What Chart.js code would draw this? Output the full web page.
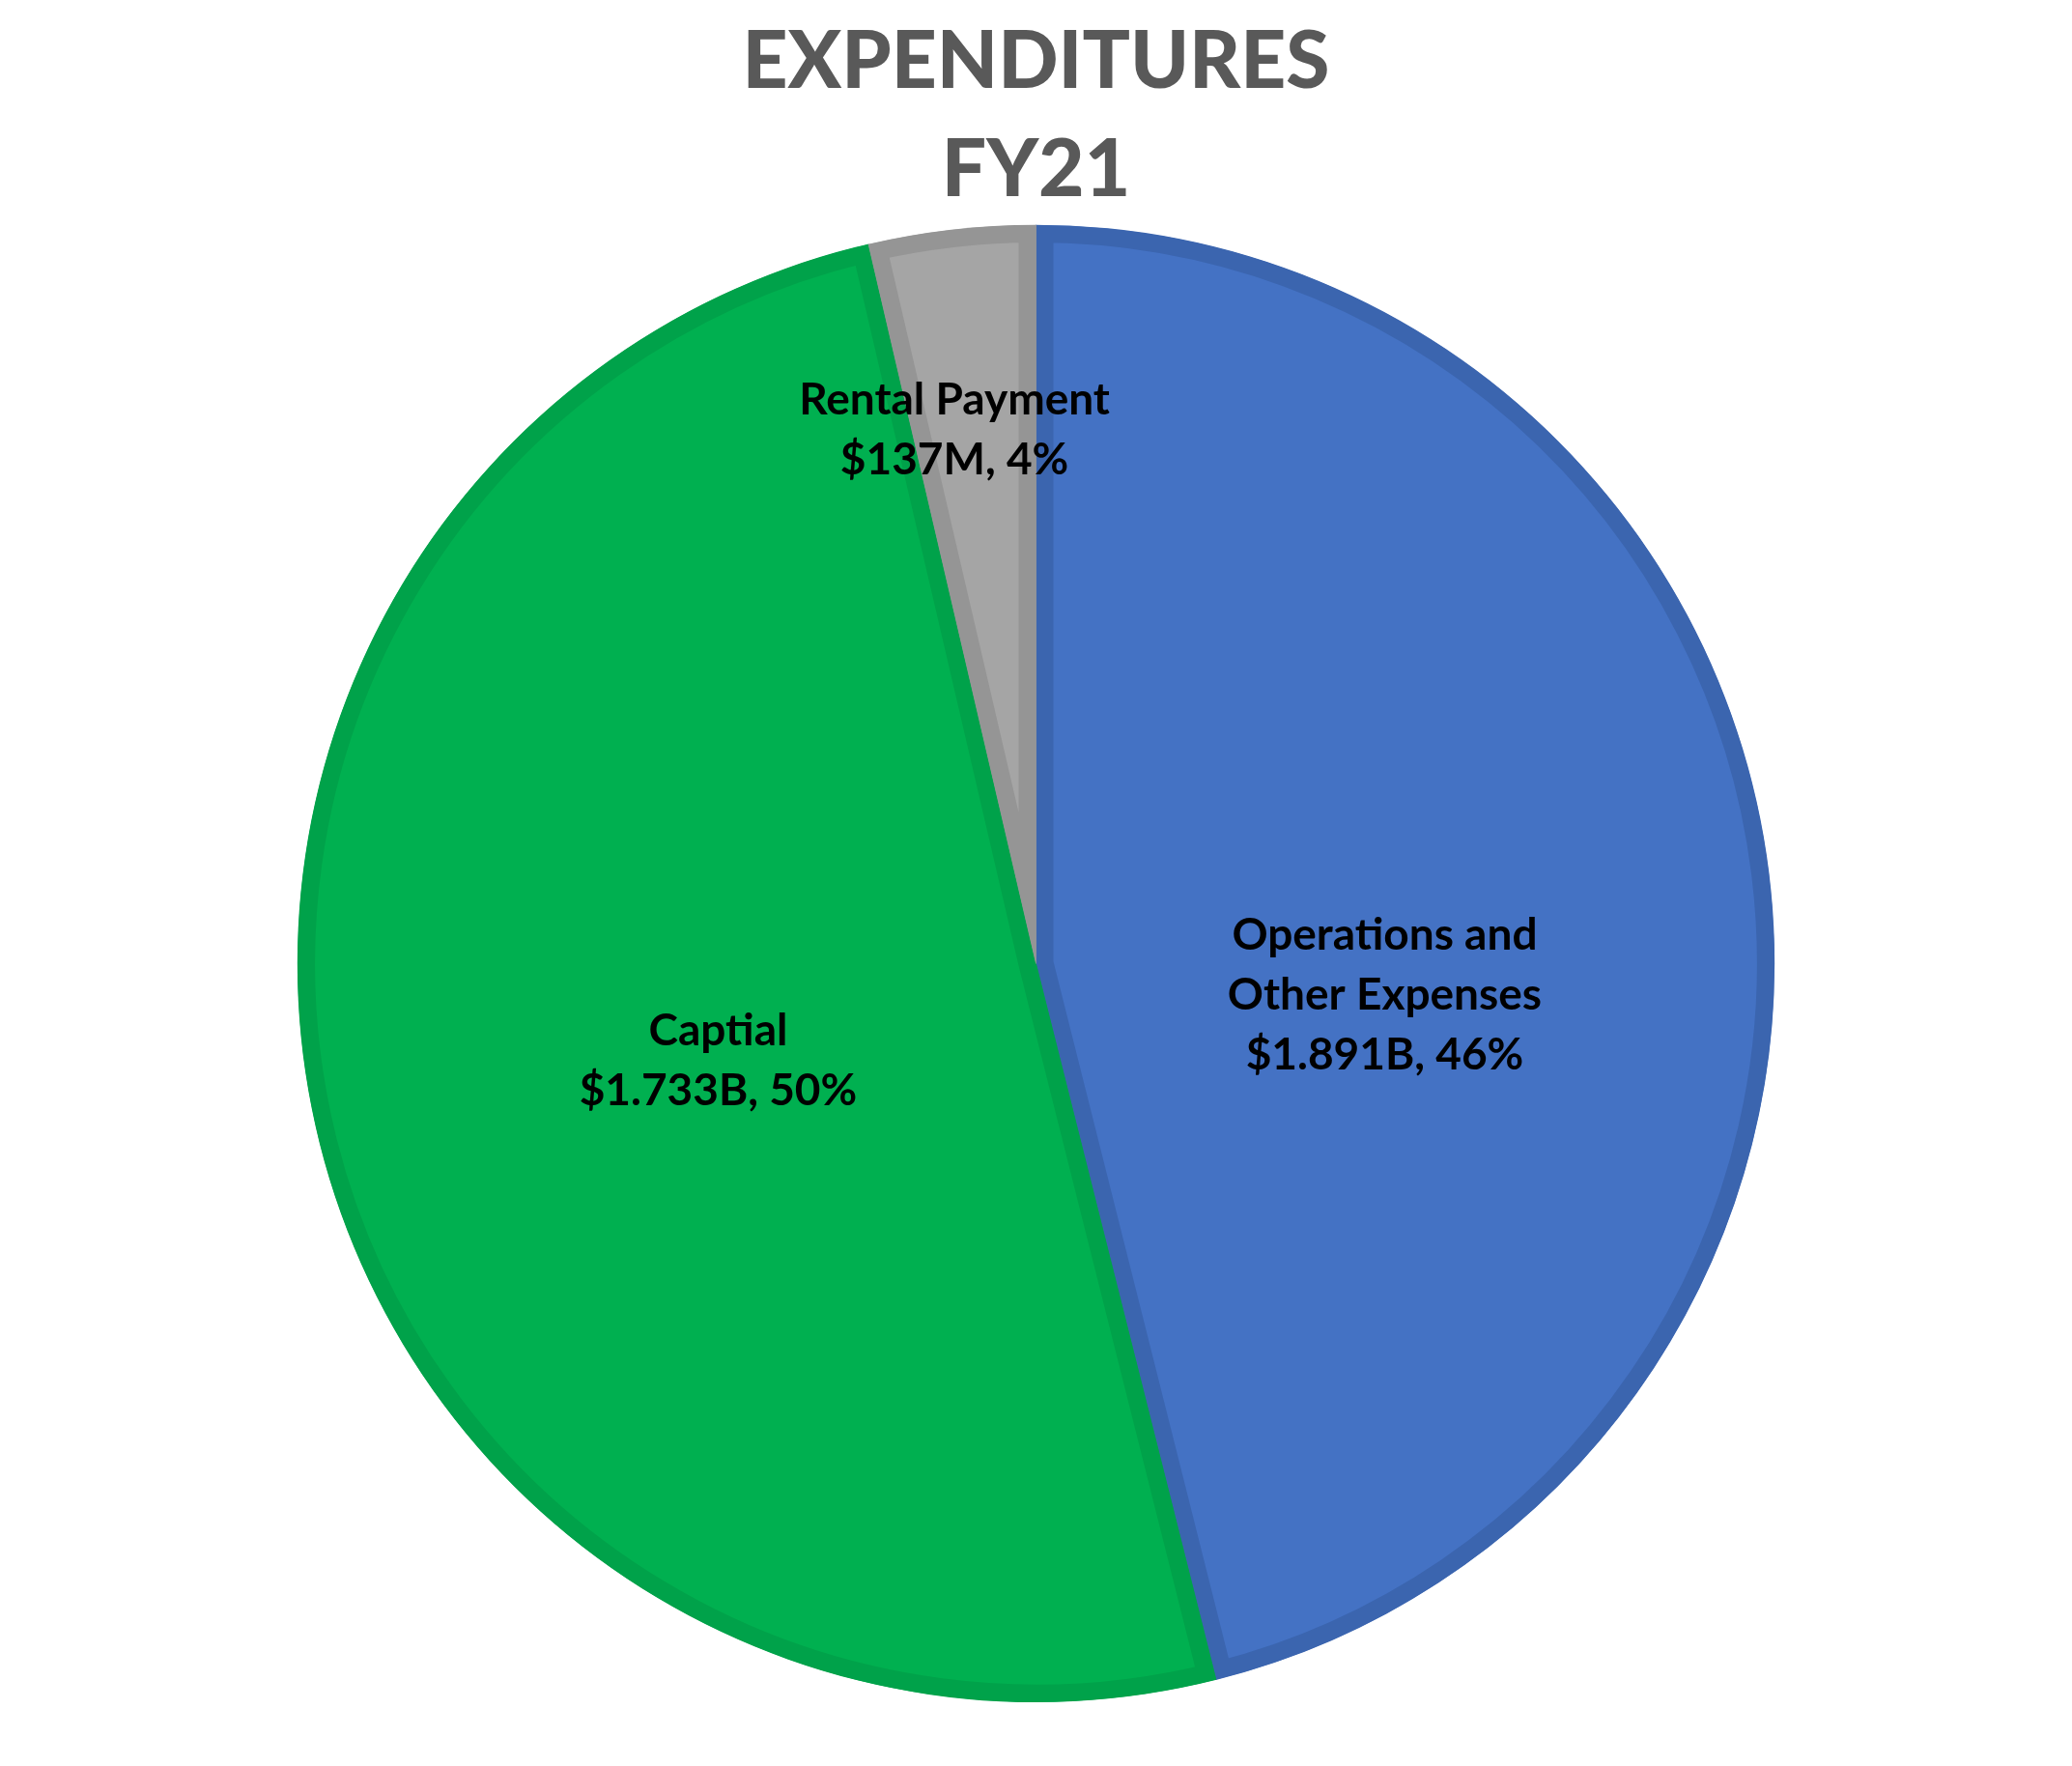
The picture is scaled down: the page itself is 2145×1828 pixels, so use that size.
<!DOCTYPE html>
<html>
<head>
<meta charset="utf-8">
<script src="https://cdn.jsdelivr.net/npm/chart.js@4.4.1/dist/chart.umd.min.js"></script>
<style>
    html, body { margin: 0; padding: 0; background: #ffffff; }
    #wrap { width: 2145px; height: 1828px; position: relative; }
</style>
</head>
<body>
<div id="wrap"><canvas id="pieChart"></canvas></div>
<script>
// slice values (millions), clockwise from 12 o'clock
const categories = ['Operations and Other Expenses', 'Captial', 'Rental Payment'];
const sliceValues = [1733, 1891, 137];
const sliceLabels = [
    ['Operations and', 'Other Expenses', '$1.891B, 46%'],
    ['Captial', '$1.733B, 50%'],
    ['Rental Payment', '$137M, 4%']
];
const titleLines = ['EXPENDITURES', 'FY21'];

const fillColors = ['#4472C4', '#00B050', '#A5A5A5'];
const borderColors = ['#3B65AF', '#00A24A', '#959595'];
// where each label sits: angle in degrees (0 = 3 o'clock, clockwise) and fraction of radius
const labelPlacement = [
    { angle: 5.2, r: 0.474 },
    { angle: 163, r: 0.45 },
    { angle: -98.7, r: 0.73 }
];

const sliceLabelPlugin = {
    id: 'sliceLabels',
    afterDatasetsDraw(chart) {
        const ctx = chart.ctx;
        const meta = chart.getDatasetMeta(0);
        ctx.save();
        ctx.font = 'bold 46px Lato, "Open Sans", sans-serif';
        ctx.fillStyle = '#000000';
        ctx.textAlign = 'center';
        ctx.textBaseline = 'middle';
        const lineHeight = 62;
        meta.data.forEach((arc, i) => {
            const props = arc.getProps(['x', 'y', 'outerRadius'], true);
            const place = labelPlacement[i];
            const a = place.angle * Math.PI / 180;
            const cx = props.x + Math.cos(a) * place.r * props.outerRadius;
            const cy = props.y + Math.sin(a) * place.r * props.outerRadius;
            const lines = sliceLabels[i];
            const startY = cy - (lines.length - 1) * lineHeight / 2;
            lines.forEach((line, j) => {
                ctx.fillText(line, cx, startY + j * lineHeight);
            });
        });
        ctx.restore();
    }
};

function renderPie() {
    const ctx = document.getElementById('pieChart').getContext('2d');
    new Chart(ctx, {
        type: 'pie',
        data: {
            labels: categories,
            datasets: [{
                data: sliceValues,
                backgroundColor: fillColors,
                borderColor: borderColors,
                borderWidth: 18,
                borderAlign: 'inner',
                borderJoinStyle: 'miter',
                hoverOffset: 0
            }]
        },
        options: {
            responsive: true,
            maintainAspectRatio: false,
            animation: false,
            events: [],
            layout: {
                padding: { top: 0, bottom: 66, left: 0, right: 0 }
            },
            plugins: {
                legend: { display: false },
                tooltip: { enabled: false },
                title: {
                    display: true,
                    text: titleLines,
                    color: '#595959',
                    font: { family: 'Lato, "Open Sans", sans-serif', size: 82, weight: '900', lineHeight: 1.37 },
                    padding: { top: 8, bottom: 0 }
                }
            }
        },
        plugins: [sliceLabelPlugin]
    });
}

document.addEventListener('DOMContentLoaded', function() {
    renderPie();
});
</script>
</body>
</html>
